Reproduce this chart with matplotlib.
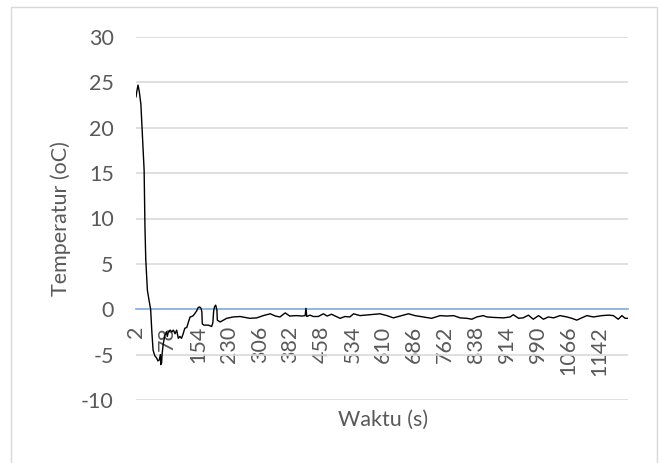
from matplotlib import pyplot as plt
from matplotlib.patches import Rectangle
import numpy as np

plt.rcParams['font.family'] = ['Lato', 'DejaVu Sans']
plt.rcParams['axes.unicode_minus'] = False

# time (s) and temperature (oC)
waktu = [2, 4, 7, 10, 14, 18, 22, 24, 26, 30, 34, 38, 41, 44, 48, 53, 56, 59, 62, 63, 65, 66,
         69, 73, 77, 79, 81, 86, 90, 94, 98, 102, 106, 110, 114, 118, 122, 127, 131, 135,
         139, 143, 147, 151, 155, 159, 162, 164, 165, 169, 180, 188, 191, 193, 195, 198,
         201, 202, 209, 217,
         225, 241, 258, 270, 282, 299, 315, 332, 345, 356, 369, 380, 397, 410, 418, 420,
         422, 430, 438, 450, 463, 472, 483, 492, 504, 516, 528, 537, 549, 553, 566, 578,
         590, 602, 619, 635, 651, 672, 688, 709, 729, 750, 766, 783, 799, 816, 828, 840,
         856, 865, 881, 906, 922, 930, 943, 954, 967, 979, 992, 1004, 1016, 1029, 1045,
         1062, 1074, 1086, 1098, 1111, 1127, 1148, 1164, 1176, 1188, 1197, 1205, 1212]
suhu = [23.4, 24.0, 24.7, 24.0, 22.6, 19.0, 15.3, 9.1, 5.5, 2.1, 1.0, 0.0, -2.5, -4.5, -5.1,
        -5.4, -5.7, -5.6, -5.0, -6.1, -5.9, -5.0,
        -3.8, -2.9, -2.5, -3.0, -2.6, -2.3, -2.5, -2.3, -2.7, -2.3, -3.2, -3.0, -3.2, -2.7,
        -2.1, -2.0, -1.4, -0.85, -0.8, -0.7, -0.45, -0.2, 0.2, 0.25, 0.1, -0.3, -1.6, -1.75,
        -1.75, -1.9, -1.5, -0.2, 0.25, 0.45, -0.1, -1.2, -1.4, -1.2,
        -1.0, -0.85, -0.8, -0.9, -1.0, -0.95, -0.7, -0.5, -0.75, -0.85, -0.4, -0.75, -0.7,
        -0.75, -0.7, 0.1, -0.8, -0.65, -0.8, -0.8, -0.5, -0.75, -0.55, -0.75, -1.0, -0.8,
        -0.85, -0.5, -0.65, -0.7, -0.65, -0.6, -0.55, -0.5, -0.7, -0.95, -0.75, -0.5, -0.7,
        -0.85, -1.0, -0.7, -0.75, -0.7, -0.95, -1.0, -1.1, -0.85, -0.7, -0.85, -0.9, -0.95,
        -0.85, -0.6, -1.0, -0.95, -0.65, -1.1, -0.7, -1.1, -0.85, -0.95, -0.7, -0.85, -1.0,
        -1.2, -0.95, -0.7, -0.85, -0.7, -0.65, -0.7, -1.1, -0.7, -1.0, -1.0]

xticks = np.arange(2, 1143, 76)
yticks = np.arange(-10, 31, 5)

grey = '#595959'
fsize = 15.5

fig = plt.figure(figsize=(6.62, 4.63), dpi=100)
ax = fig.add_axes([136 / 662, 1 - 400 / 463, (628 - 136) / 662, (400 - 37) / 463])

# chart border
fig.patches.append(Rectangle((11 / 662, -0.01), (657 - 11) / 662, 1 - 7 / 463 + 0.01,
                             transform=fig.transFigure, fill=False,
                             edgecolor='#D9D9D9', linewidth=1.0))

ax.plot(waktu, suhu, color='black', linewidth=1.0, zorder=3)

for s in ['top', 'right', 'left']:
    ax.spines[s].set_visible(False)
ax.spines['bottom'].set_position(('data', 0))
ax.spines['bottom'].set_color('#8EB4E3')
ax.spines['bottom'].set_linewidth(1.3)

ax.set_xlim(2, 1212)
ax.set_ylim(-10, 30)
ax.set_yticks(yticks)
ax.set_xticks(xticks)
ax.set_xticklabels([str(v) for v in xticks])
ax.grid(axis='y', color='#D9D9D9', linewidth=1.2)
ax.set_axisbelow(True)

ax.tick_params(axis='y', length=0, pad=16, labelsize=fsize, labelcolor=grey)
ax.tick_params(axis='x', length=0, pad=12, labelsize=fsize, labelcolor=grey,
               labelrotation=90)

fig.text(61 / 662, 1 - 219 / 463, 'Temperatur (oC)', rotation=90, ha='center',
         va='center', fontsize=fsize, color=grey)
fig.text(383 / 662, 1 - 420 / 463, 'Waktu (s)', ha='center', va='center',
         fontsize=fsize, color=grey)

fig.savefig('out.png', dpi=100)
